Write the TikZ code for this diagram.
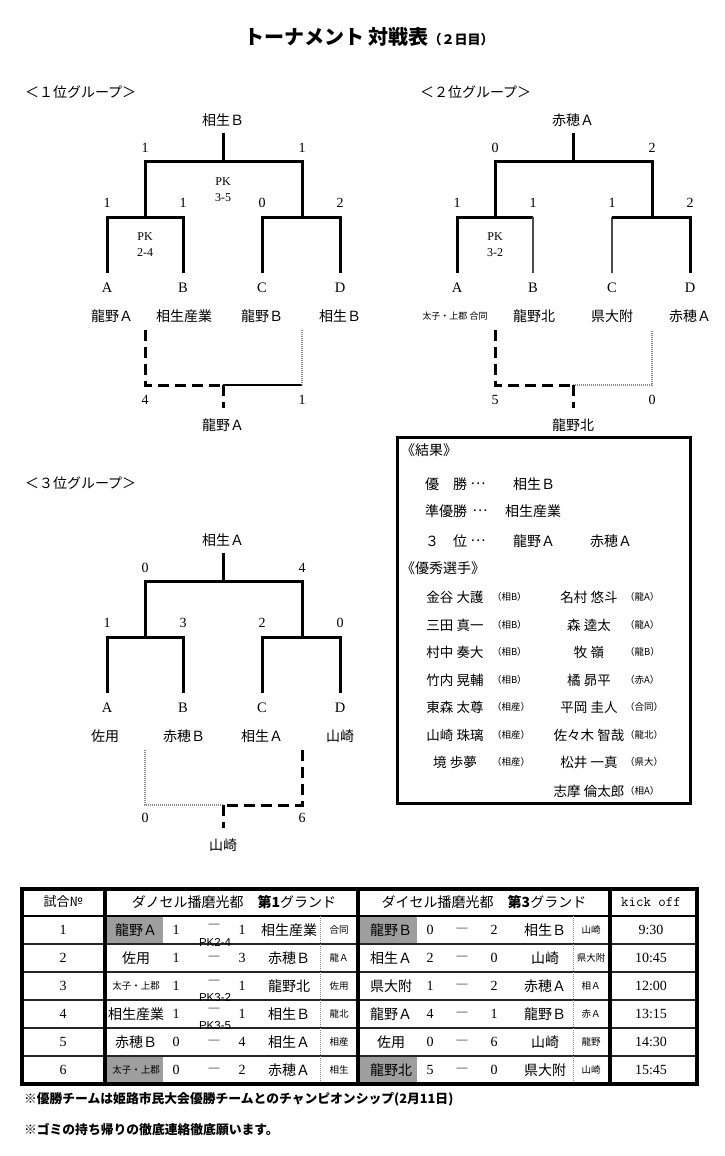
\documentclass[tikz,border=0pt]{standalone}
\usepackage{fontspec}
\newfontfamily\jp{Noto Sans CJK JP}
\newfontfamily\sansf{Liberation Sans}
\newfontfamily\serf{Liberation Serif}
\newcommand\tsk{{\fontsize{9.5}{11}\selectfont 太子・上郡}}
\newcommand\bkcoords[1]{%
 \coordinate (#1top) at (223,133);
 \coordinate (#1mid) at (223,161);
 \coordinate (#1L) at (145,161);
 \coordinate (#1R) at (302,161);
 \coordinate (#1Lj) at (145,217);
 \coordinate (#1Rj) at (302,217);
 \coordinate (#1a) at (107,217);
 \coordinate (#1b) at (183,217);
 \coordinate (#1c) at (262,217);
 \coordinate (#1d) at (340,217);
 \coordinate (#1ae) at (107,273);
 \coordinate (#1be) at (183,273);
 \coordinate (#1ce) at (262,273);
 \coordinate (#1de) at (340,273);
 \coordinate (#1bl) at (145,330);
 \coordinate (#1blc) at (145,385);
 \coordinate (#1bm) at (223,385);
 \coordinate (#1brc) at (302,385);
 \coordinate (#1br) at (302,330);
 \coordinate (#1bw) at (223,408);
}
\begin{document}
\begin{tikzpicture}[x=1pt,y=-1pt,
 every node/.style={inner sep=0pt, outer sep=0pt},
 nm/.style={font=\jp\fontsize{14}{16}\selectfont},
 nm2/.style={font=\jp\fontsize{13.5}{16}\selectfont},
 lab/.style={font=\jp\fontsize{14}{16}\selectfont, anchor=west},
 sc/.style={font=\serf\fontsize{14}{16}\selectfont},
 lt/.style={font=\serf\fontsize{14.5}{17}\selectfont},
 pk/.style={font=\serf\fontsize{12}{16}\selectfont, align=center},
 sm/.style={font=\jp\fontsize{9}{11}\selectfont},
 par/.style={font=\jp\fontsize{9.5}{11}\selectfont, anchor=west},
 br/.style={line width=3pt},
 brthin/.style={line width=1.8pt, black!70},
 brdash/.style={line width=3pt, dash pattern=on 11pt off 6pt},
 brsolid/.style={line width=2pt},
 brdot/.style={line width=1.3pt, black!45, dash pattern=on 1pt off 1pt},
 tnum/.style={font=\serf\fontsize{14}{16}\selectfont},
 tref/.style={font=\jp\fontsize{9.5}{11}\selectfont},
 tpk/.style={font=\sansf\fontsize{11.5}{13}\selectfont},
 tdash/.style={font=\jp\fontsize{13}{14}\selectfont},
 foot/.style={font=\jp\bfseries\fontsize{12.8}{15}\selectfont, anchor=west}]
\fill[white] (0,0) rectangle (724,1156);
\useasboundingbox (0,0) rectangle (724,1156);

% Title
\node[anchor=west, font=\jp\bfseries\fontsize{20}{24}\selectfont] (title) at (244,37) {トーナメント 対戦表{\fontsize{13}{15}\selectfont （２日目）}};

% Group labels
\node[lab] (lab1) at (25,92) {＜１位グループ＞};
\node[lab] (lab2) at (420,92) {＜２位グループ＞};
\node[lab] (lab3) at (25,483) {＜３位グループ＞};

% ---------- Group 1 ----------
\bkcoords{g1}
\draw[br] (g1top) -- (g1mid);
\draw[br] (g1Lj) -- (g1L) -- (g1R) -- (g1Rj);
\draw[br] (g1ae) -- (g1a) -- (g1b) -- (g1be);
\draw[br] (g1ce) -- (g1c) -- (g1d) -- (g1de);
\draw[brdash] (g1bl) -- (g1blc) -- (g1bm);
\draw[brsolid] (g1bm) -- (g1brc);
\draw[brdot] (g1brc) -- (g1br);
\draw[brdash] (g1bm) -- (g1bw);
\node[nm] (g1w) at (223,120) {相生Ｂ};
\node[sc] (g1sL) at (145,148) {1};
\node[sc] (g1sR) at (302,148) {1};
\node[sc] (g1sa) at (107,203) {1};
\node[sc] (g1sb) at (183,203) {1};
\node[sc] (g1sc) at (262,203) {0};
\node[sc] (g1sd) at (340,203) {2};
\node[pk] (g1pk1) at (223,190) {PK\\3-5};
\node[pk] (g1pk2) at (145,245) {PK\\2-4};
\node[lt] (g1A) at (107,288) {A};
\node[lt] (g1B) at (183,288) {B};
\node[lt] (g1C) at (262,288) {C};
\node[lt] (g1D) at (340,288) {D};
\node[nm] (g1nA) at (112,316) {龍野Ａ};
\node[nm] (g1nB) at (184,316) {相生産業};
\node[nm] (g1nC) at (262,316) {龍野Ｂ};
\node[nm] (g1nD) at (340,316) {相生Ｂ};
\node[sc] (g1fL) at (145,400) {4};
\node[sc] (g1fR) at (302,400) {1};
\node[nm] (g1fw) at (223,425) {龍野Ａ};

% ---------- Group 2 ----------
\begin{scope}[shift={(350,0)}]
\bkcoords{g2}
\draw[br] (g2top) -- (g2mid);
\draw[br] (g2Lj) -- (g2L) -- (g2R) -- (g2Rj);
\draw[br] (g2ae) -- (g2a) -- (g2b);
\draw[brthin] (g2b) -- (g2be);
\draw[brthin] (g2c) -- (g2ce);
\draw[br] (g2c) -- (g2d) -- (g2de);
\draw[brdash] (g2bl) -- (g2blc) -- (g2bm);
\draw[brdot] (g2bm) -- (g2brc) -- (g2br);
\draw[brdash] (g2bm) -- (g2bw);
\node[nm] (g2w) at (223,120) {赤穂Ａ};
\node[sc] (g2sL) at (145,148) {0};
\node[sc] (g2sR) at (302,148) {2};
\node[sc] (g2sa) at (107,203) {1};
\node[sc] (g2sb) at (183,203) {1};
\node[sc] (g2sc) at (262,203) {1};
\node[sc] (g2sd) at (340,203) {2};
\node[pk] (g2pk) at (145,245) {PK\\3-2};
\node[lt] (g2A) at (107,288) {A};
\node[lt] (g2B) at (183,288) {B};
\node[lt] (g2C) at (262,288) {C};
\node[lt] (g2D) at (340,288) {D};
\node[sm] (g2nA) at (105,316) {太子・上郡 合同};
\node[nm] (g2nB) at (184,316) {龍野北};
\node[nm] (g2nC) at (262,316) {県大附};
\node[nm] (g2nD) at (340,316) {赤穂Ａ};
\node[sc] (g2fL) at (145,400) {5};
\node[sc] (g2fR) at (302,400) {0};
\node[nm] (g2fw) at (223,425) {龍野北};
\end{scope}

% ---------- Group 3 ----------
\begin{scope}[shift={(0,420)}]
\bkcoords{g3}
\draw[br] (g3top) -- (g3mid);
\draw[br] (g3Lj) -- (g3L) -- (g3R) -- (g3Rj);
\draw[br] (g3ae) -- (g3a) -- (g3b) -- (g3be);
\draw[br] (g3ce) -- (g3c) -- (g3d) -- (g3de);
\draw[brdot] (g3bl) -- (g3blc) -- (g3bm);
\draw[brdash] (g3br) -- (g3brc) -- (g3bm);
\draw[brdash] (g3bm) -- (g3bw);
\node[nm] (g3w) at (223,120) {相生Ａ};
\node[sc] (g3sL) at (145,148) {0};
\node[sc] (g3sR) at (302,148) {4};
\node[sc] (g3sa) at (107,203) {1};
\node[sc] (g3sb) at (183,203) {3};
\node[sc] (g3sc) at (262,203) {2};
\node[sc] (g3sd) at (340,203) {0};
\node[lt] (g3A) at (107,288) {A};
\node[lt] (g3B) at (183,288) {B};
\node[lt] (g3C) at (262,288) {C};
\node[lt] (g3D) at (340,288) {D};
\node[nm] (g3nA) at (105,316) {佐用};
\node[nm] (g3nB) at (184,316) {赤穂Ｂ};
\node[nm] (g3nC) at (262,316) {相生Ａ};
\node[nm] (g3nD) at (340,316) {山崎};
\node[sc] (g3fL) at (145,398) {0};
\node[sc] (g3fR) at (302,398) {6};
\node[nm] (g3fw) at (223,425) {山崎};
\end{scope}

% ---------- Result box ----------
\draw[line width=3pt] (397,437) rectangle (690,803);
\node[lab] (rh1) at (401,450) {《結果》};
\node[lab] (r1a) at (425,484) {優　勝};
\node[nm] (r1b) at (478,484) {…};
\node[lab] (r1c) at (513,484) {相生Ｂ};
\node[lab] (r2a) at (425,511) {準優勝};
\node[nm] (r2b) at (480,511) {…};
\node[lab] (r2c) at (505,511) {相生産業};
\node[lab] (r3a) at (425,541) {３　位};
\node[nm] (r3b) at (478,541) {…};
\node[lab] (r3c) at (513,541) {龍野Ａ};
\node[lab] (r3d) at (590,541) {赤穂Ａ};
\node[lab] (rh2) at (401,568) {《優秀選手》};
\foreach \y/\i/\na/\pa/\nb/\pb in {
 597/1/金谷 大護/（相B）/名村 悠斗/（龍A）,
 625/2/三田 真一/（相B）/森 逵太/（龍A）,
 652/3/村中 奏大/（相B）/牧 嶺/（龍B）,
 680/4/竹内 晃輔/（相B）/橘 昴平/（赤A）,
 707/5/東森 太尊/（相産）/平岡 圭人/（合同）,
 735/6/山崎 珠璃/（相産）/佐々木 智哉/（龍北）,
 762/7/境 歩夢/（相産）/松井 一真/（県大）}{
 \node[nm2] (pa\i) at (455,\y) {\na};
 \node[par] (ppa\i) at (492,\y) {\pa};
 \node[nm2] (pb\i) at (589,\y) {\nb};
 \node[par] (ppb\i) at (625,\y) {\pb};
}
\node[nm2] (pb8) at (589,791) {志摩 倫太郎};
\node[par] (ppb8) at (625,791) {（相A）};

% ---------- Table ----------
\fill[black!38] (107,917) rectangle (163,943);
\fill[black!38] (107,1057) rectangle (163,1083);
\fill[black!38] (360,917) rectangle (417,943);
\fill[black!38] (360,1057) rectangle (417,1083);
\foreach \yy in {944,972,1000,1028,1056}{
 \draw[line width=1.6pt, black!85] (22,\yy) -- (697,\yy);
}
\draw[line width=2.6pt] (22,916) -- (697,916);
\draw[brdot, line width=1pt] (320,916) -- (320,1084);
\draw[brdot, line width=1pt] (573,916) -- (573,1084);
\foreach \xx in {105,358,610}{
 \draw[line width=3.2pt] (\xx,889) -- (\xx,1084);
}
\draw[line width=3.6pt] (22,889) rectangle (697,1084);

\node[font=\jp\fontsize{13}{15}\selectfont] (th0) at (63,902) {試合№};
\node[nm] (th1) at (234,902) {ダノセル播磨光都　{\bfseries 第1}グランド};
\node[nm] (th3) at (484,902) {ダイセル播磨光都　{\bfseries 第3}グランド};
\node[font=\ttfamily\fontsize{14.5}{16}\selectfont] (th4) at (651,902) {kick off};

\foreach \y/\n/\a/\p/\q/\b/\r/\k/\dy in {
 930/1/龍野Ａ/1/1/相生産業/合同/9:30/-3,
 958/2/佐用/1/3/赤穂Ｂ/龍Ａ/10:45/1,
 986/3/\tsk/1/1/龍野北/佐用/12:00/-3,
 1014/4/相生産業/1/1/相生Ｂ/龍北/13:15/-3,
 1042/5/赤穂Ｂ/0/4/相生Ａ/相産/14:30/1,
 1070/6/\tsk/0/2/赤穂Ａ/相生/15:45/1}{
 \node[tnum] (tno\n) at (63,\y) {\n};
 \node[nm] (ta\n) at (136,\y) {\a};
 \node[tnum] (tp\n) at (176,\y) {\p};
 \node[tdash] (td\n) at (214,\y+\dy) {―};
 \node[tnum] (tq\n) at (242,\y) {\q};
 \node[nm] (tb\n) at (289,\y) {\b};
 \node[tref] (tr\n) at (339,\y) {\r};
 \node[tnum] (tk\n) at (651,\y) {\k};
}
\foreach \y/\n/\a/\p/\q/\b/\r in {
 930/1/龍野Ｂ/0/2/相生Ｂ/山崎,
 958/2/相生Ａ/2/0/山崎/県大附,
 986/3/県大附/1/2/赤穂Ａ/相Ａ,
 1014/4/龍野Ａ/4/1/龍野Ｂ/赤Ａ,
 1042/5/佐用/0/6/山崎/龍野,
 1070/6/龍野北/5/0/県大附/山崎}{
 \node[nm] (ua\n) at (391,\y) {\a};
 \node[tnum] (up\n) at (430,\y) {\p};
 \node[tdash] (ud\n) at (462,\y+1) {―};
 \node[tnum] (uq\n) at (494,\y) {\q};
 \node[nm] (ub\n) at (545,\y) {\b};
 \node[tref] (ur\n) at (591,\y) {\r};
}
\node[tpk] (tpk1) at (215,942) {PK2-4};
\node[tpk] (tpk3) at (215,998) {PK3-2};
\node[tpk] (tpk4) at (215,1026) {PK3-5};

% ---------- Footer ----------
\node[foot] (f1) at (24,1099) {※優勝チームは姫路市民大会優勝チームとのチャンピオンシップ(2月11日)};
\node[foot] (f2) at (24,1130) {※ゴミの持ち帰りの徹底連絡徹底願います。};
\end{tikzpicture}
\end{document}
